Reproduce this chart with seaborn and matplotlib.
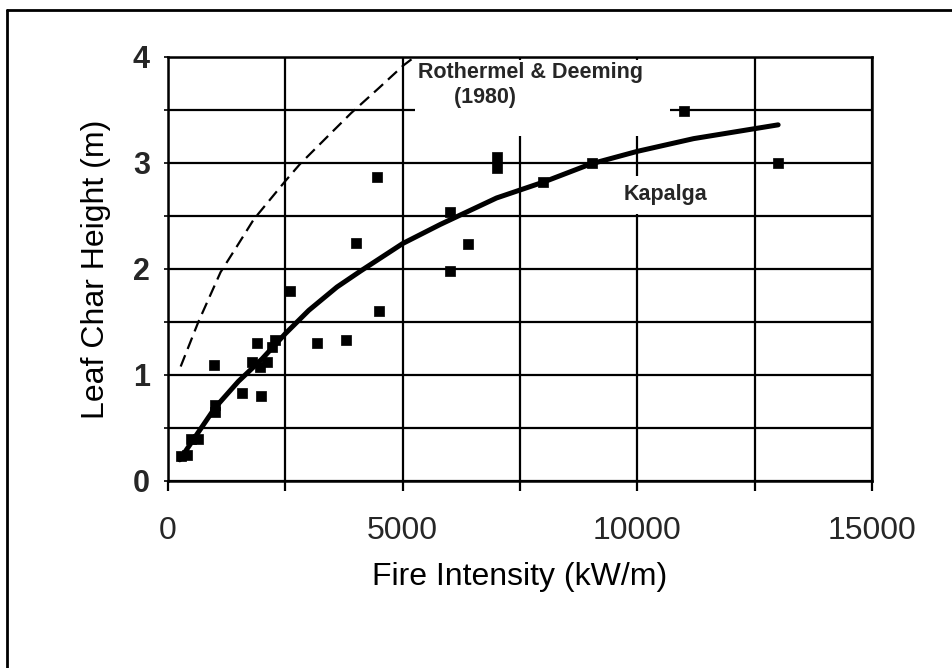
import matplotlib
matplotlib.use("Agg")
import matplotlib.pyplot as plt
from matplotlib.lines import Line2D
from matplotlib.ticker import MultipleLocator
import seaborn as sns
import pandas as pd

# observed leaf char heights (Kapalga)
obs_intensity = [280, 400, 480, 640, 1000, 1000, 990, 1570, 1980, 1780, 1960, 2100,
                 1890, 2210, 2270, 2600, 3180, 3790, 4500, 4000, 4460, 6000, 6000,
                 6390, 7020, 7020, 8000, 9030, 11000, 13000]
obs_height = [0.24, 0.25, 0.40, 0.40, 0.72, 0.65, 1.09, 0.83, 0.80, 1.125, 1.08, 1.125,
              1.305, 1.26, 1.33, 1.79, 1.30, 1.33, 1.60, 2.25, 2.87, 1.98, 2.54,
              2.24, 3.06, 2.95, 2.82, 3.00, 3.49, 3.00]

# fitted Kapalga curve
fit_intensity = [250, 600, 1000, 1500, 2000, 2500, 3000, 3600, 4100, 5000, 5800,
                 7000, 8000, 9000, 10000, 11200, 13000]
fit_height = [0.20, 0.43, 0.69, 0.94, 1.15, 1.39, 1.61, 1.83, 1.98, 2.24, 2.42,
              2.67, 2.82, 2.99, 3.11, 3.23, 3.36]

# Rothermel & Deeming (1980) curve
rd_intensity = [270, 646, 1120, 1463, 1830, 2500, 2812, 3400, 3900, 4500, 5014, 5193]
rd_height = [1.08, 1.50, 1.97, 2.21, 2.47, 2.83, 2.99, 3.25, 3.47, 3.71, 3.92, 3.98]

sns.set_theme(style="white")
plt.rcParams['font.family'] = ['Liberation Sans', 'DejaVu Sans']

fig = plt.figure(figsize=(9.53, 6.68), dpi=100)
ax = fig.add_axes([168 / 953, 1 - 481 / 668, 704 / 953, 424 / 668])

df_obs = pd.DataFrame({'intensity': obs_intensity, 'height': obs_height})
df_fit = pd.DataFrame({'intensity': fit_intensity, 'height': fit_height})
df_rd = pd.DataFrame({'intensity': rd_intensity, 'height': rd_height})

sns.lineplot(data=df_rd, x='intensity', y='height', sort=False, estimator=None,
             color='black', linewidth=1.6, ax=ax, zorder=3)
ax.lines[-1].set_dashes((5.5, 3))
sns.lineplot(data=df_fit, x='intensity', y='height', sort=False, estimator=None,
             color='black', linewidth=3.6, ax=ax, zorder=4)
sns.scatterplot(data=df_obs, x='intensity', y='height', marker='s', s=42,
                color='black', edgecolor='black', linewidth=0.5, ax=ax, zorder=5)

ax.set_xlim(0, 15000)
ax.set_ylim(0, 4)
ax.xaxis.set_major_locator(MultipleLocator(5000))
ax.xaxis.set_minor_locator(MultipleLocator(2500))
ax.yaxis.set_major_locator(MultipleLocator(1))
ax.yaxis.set_minor_locator(MultipleLocator(0.5))
ax.grid(which='both', color='black', linewidth=1.6)
ax.set_axisbelow(True)
for sp in ax.spines.values():
    sp.set_color('black')
    sp.set_linewidth(1.8)

ax.tick_params(axis='x', which='both', direction='out', length=7, width=1.6,
               color='black', bottom=True, pad=18, labelsize=23)
ax.tick_params(axis='y', which='both', direction='out', length=3, width=1.2,
               color='black', left=True, pad=10, labelsize=22)
for lab in ax.get_yticklabels():
    lab.set_fontweight('bold')

ax.set_xlabel('Fire Intensity (kW/m)', fontsize=23, labelpad=12, color='black')
ax.set_ylabel('Leaf Char Height (m)', fontsize=23, labelpad=16, color='black')

ax.text(5330, 3.95, 'Rothermel & Deeming    \n      (1980)\n ', fontsize=15.5,
        fontweight='bold', ha='left', va='top', linespacing=1.25, zorder=6,
        bbox=dict(facecolor='white', edgecolor='none', pad=2))
ax.text(10600, 2.70, 'Kapalga', fontsize=15.5, fontweight='bold', ha='center',
        va='center', zorder=6,
        bbox=dict(facecolor='white', edgecolor='none', pad=6))

# outer frame of the scanned figure
fig.add_artist(Line2D([7 / 953, 7 / 953], [0, 1 - 10 / 668], color='black', linewidth=2))
fig.add_artist(Line2D([7 / 953, 1], [1 - 10 / 668, 1 - 10 / 668], color='black', linewidth=2))

fig.savefig('out.png', dpi=100)
